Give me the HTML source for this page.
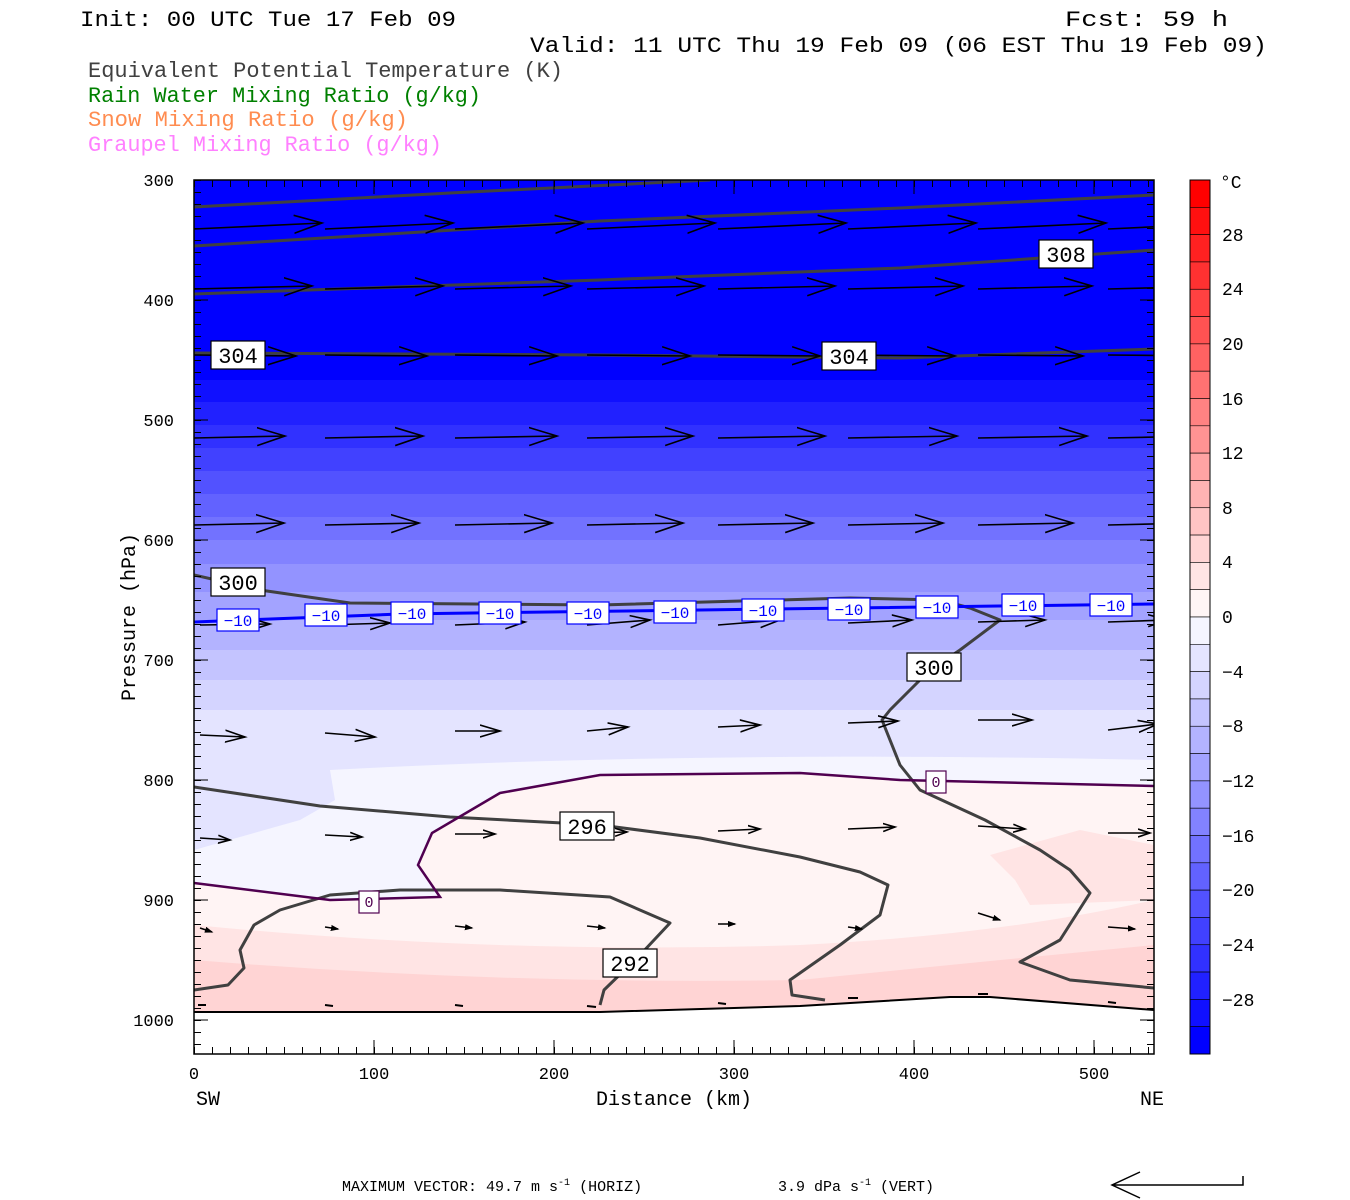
<!DOCTYPE html>
<html><head><meta charset="utf-8"><style>
html,body{margin:0;padding:0;background:#fff;}
svg{display:block;}
text{font-family:"Liberation Mono",monospace;}
</style></head><body>
<svg width="1350" height="1200" xmlns="http://www.w3.org/2000/svg">
<defs>
<clipPath id="pc"><rect x="194" y="180" width="960" height="874"/></clipPath>
<marker id="ma" markerWidth="32" markerHeight="22" refX="28" refY="10" orient="auto" markerUnits="userSpaceOnUse"><path d="M0,1 L28,10 L0,19" fill="none" stroke="#000" stroke-width="1.6"/></marker>
<marker id="mb" markerWidth="24" markerHeight="16" refX="20" refY="7" orient="auto" markerUnits="userSpaceOnUse"><path d="M0,1 L20,7 L0,13" fill="none" stroke="#000" stroke-width="1.6"/></marker>
<marker id="mc" markerWidth="16" markerHeight="12" refX="12" refY="5" orient="auto" markerUnits="userSpaceOnUse"><path d="M0,1 L12,5 L0,9" fill="none" stroke="#000" stroke-width="1.6"/></marker>
<marker id="md" markerWidth="10" markerHeight="8" refX="7" refY="4" orient="auto" markerUnits="userSpaceOnUse"><path d="M0,1.5 L7,4 L0,6.5 Z" fill="#000" stroke="#000" stroke-width="1"/></marker>
<pattern id="ph" patternUnits="userSpaceOnUse" x="194" y="180" width="20" height="12"><rect x="0" y="0" width="20" height="1" fill="#000"/></pattern>
<pattern id="pv" patternUnits="userSpaceOnUse" x="194" y="0" width="18" height="20"><rect x="0" y="0" width="1" height="20" fill="#000"/></pattern>
</defs>
<g clip-path="url(#pc)">
<rect x="194" y="180" width="960" height="874" fill="#f5f5ff"/>
<rect x="194" y="180" width="960" height="201" fill="#0000ff"/>
<rect x="194" y="380" width="960" height="23" fill="rgb(16,16,255)"/>
<rect x="194" y="402" width="960" height="24" fill="rgb(33,33,255)"/>
<rect x="194" y="425" width="960" height="24" fill="rgb(49,49,255)"/>
<rect x="194" y="448" width="960" height="24" fill="rgb(65,65,255)"/>
<rect x="194" y="471" width="960" height="24" fill="rgb(82,82,255)"/>
<rect x="194" y="494" width="960" height="24" fill="rgb(98,98,255)"/>
<rect x="194" y="517" width="960" height="24" fill="rgb(114,114,255)"/>
<rect x="194" y="540" width="960" height="25" fill="rgb(130,130,255)"/>
<rect x="194" y="564" width="960" height="29" fill="rgb(147,147,255)"/>
<rect x="194" y="592" width="960" height="29" fill="rgb(163,163,255)"/>
<rect x="194" y="620" width="960" height="31" fill="rgb(179,179,255)"/>
<rect x="194" y="650" width="960" height="31" fill="rgb(196,196,255)"/>
<rect x="194" y="680" width="960" height="31" fill="rgb(212,212,255)"/>
<rect x="194" y="710" width="960" height="40" fill="rgb(228,228,255)"/>
<path d="M194,750 L1154,750 L1154,760 Q700,750 330,770 L194,780 Z" fill="rgb(228,228,255)"/>
<path d="M194,760 L330,770 L335,800 L300,820 L194,850 Z" fill="#e4e4ff"/>
<path d="M194,883 L330,900 L440,897 L418,865 L432,833 L500,793 L600,775 L800,773 L900,780 L1154,786 L1154,1054 L194,1054 Z" fill="#fff4f4"/>
<path d="M194,925 Q500,955 800,945 Q1000,935 1154,900 L1154,1054 L194,1054 Z" fill="#ffe4e4"/>
<path d="M990,855 L1080,830 L1154,845 L1154,900 L1030,905 L1015,880 Z" fill="#ffe4e4"/>
<path d="M194,960 Q500,985 800,980 Q1000,960 1154,945 L1154,1054 L194,1054 Z" fill="#ffd4d4"/>
<path d="M194,1012 L600,1012 L800,1006 L950,997 L990,997 L1154,1010 L1154,1054 L194,1054 Z" fill="#fff"/>
<path d="M194,1012 L600,1012 L800,1006 L950,997 L990,997 L1154,1010" fill="none" stroke="#000" stroke-width="2"/>
<g fill="none" stroke="#404040" stroke-width="3" stroke-linejoin="round">
<path d="M194,207 L450,193 L710,180"/>
<path d="M194,246 L600,221 L900,208 L1154,195"/>
<path d="M194,294 L600,280 L900,268 L1154,250"/>
<path d="M194,353 L600,355 L900,358 L1154,349"/>
<path d="M194,575 L260,590 L350,603 L600,605 L850,598 L940,600 L970,608 L1000,620 L960,650 L930,670 L890,710 L882,720 L900,765 L920,790 L985,820 L1040,850 L1070,870 L1090,893 L1060,940 L1020,962 L1070,980 L1154,988"/>
<path d="M194,787 L320,806 L450,817 L600,825 L700,838 L800,857 L860,872 L888,885 L880,915 L840,945 L790,980 L792,995 L825,1000"/>
<path d="M194,990 L228,985 L244,968 L240,950 L254,925 L280,910 L330,895 L400,890 L500,890 L610,897 L670,923 L640,955 L604,990 L600,1005"/>
</g>
<path d="M194,883 L330,900 L440,897 L418,865 L432,833 L500,793 L600,775 L800,773 L900,780 L1154,786" fill="none" stroke="#500050" stroke-width="2.5"/>
<path d="M194,622 L400,614 L700,610 L1154,604" fill="none" stroke="#0000ff" stroke-width="3"/>
<g stroke="#000" stroke-width="1.6" fill="none">
<g marker-end="url(#ma)">
<line x1="194" y1="229" x2="322" y2="223"/><line x1="325" y1="229" x2="453" y2="223"/><line x1="455" y1="229" x2="583" y2="223"/><line x1="587" y1="229" x2="715" y2="223"/><line x1="718" y1="229" x2="846" y2="223"/><line x1="848" y1="229" x2="976" y2="223"/><line x1="978" y1="229" x2="1106" y2="223"/><line x1="1108" y1="229" x2="1236" y2="223"/>
<line x1="194" y1="289" x2="312" y2="286"/><line x1="325" y1="289" x2="443" y2="286"/><line x1="455" y1="289" x2="571" y2="286"/><line x1="587" y1="289" x2="704" y2="286"/><line x1="718" y1="289" x2="835" y2="286"/><line x1="848" y1="289" x2="963" y2="286"/><line x1="978" y1="289" x2="1092" y2="286"/><line x1="1108" y1="289" x2="1222" y2="286"/>
<line x1="194" y1="355" x2="296" y2="356"/><line x1="325" y1="355" x2="427" y2="356"/><line x1="455" y1="355" x2="557" y2="356"/><line x1="587" y1="355" x2="690" y2="356"/><line x1="718" y1="355" x2="820" y2="356"/><line x1="848" y1="355" x2="955" y2="356"/><line x1="978" y1="355" x2="1083" y2="356"/><line x1="1108" y1="355" x2="1208" y2="356"/>
<line x1="194" y1="438" x2="285" y2="436"/><line x1="325" y1="438" x2="423" y2="436"/><line x1="455" y1="438" x2="557" y2="436"/><line x1="587" y1="438" x2="693" y2="436"/><line x1="718" y1="438" x2="825" y2="436"/><line x1="848" y1="438" x2="957" y2="436"/><line x1="978" y1="438" x2="1087" y2="436"/><line x1="1108" y1="438" x2="1208" y2="436"/>
<line x1="194" y1="525" x2="284" y2="523"/><line x1="325" y1="525" x2="419" y2="523"/><line x1="455" y1="525" x2="552" y2="523"/><line x1="587" y1="525" x2="683" y2="523"/><line x1="718" y1="525" x2="813" y2="523"/><line x1="848" y1="525" x2="943" y2="523"/><line x1="978" y1="525" x2="1073" y2="523"/><line x1="1108" y1="525" x2="1198" y2="523"/>
</g>
<g marker-end="url(#mb)">
<line x1="200" y1="625" x2="270" y2="624"/><line x1="325" y1="625" x2="390" y2="623"/><line x1="455" y1="625" x2="525" y2="622"/><line x1="587" y1="625" x2="650" y2="620"/><line x1="718" y1="625" x2="780" y2="620"/><line x1="848" y1="623" x2="912" y2="620"/><line x1="978" y1="622" x2="1045" y2="620"/><line x1="1108" y1="622" x2="1168" y2="620"/>
<line x1="200" y1="735" x2="245" y2="737"/><line x1="325" y1="733" x2="375" y2="737"/><line x1="455" y1="731" x2="500" y2="731"/><line x1="587" y1="731" x2="628" y2="727"/><line x1="718" y1="727" x2="760" y2="725"/><line x1="848" y1="723" x2="898" y2="721"/><line x1="978" y1="720" x2="1032" y2="720"/><line x1="1108" y1="730" x2="1158" y2="724"/>
</g>
<g marker-end="url(#mc)">
<line x1="200" y1="838" x2="230" y2="840"/><line x1="325" y1="835" x2="362" y2="837"/><line x1="455" y1="834" x2="495" y2="834"/><line x1="587" y1="833" x2="627" y2="832"/><line x1="718" y1="831" x2="760" y2="829"/><line x1="848" y1="829" x2="895" y2="827"/><line x1="978" y1="826" x2="1025" y2="829"/><line x1="1108" y1="833" x2="1150" y2="833"/>
</g>
<g marker-end="url(#md)">
<line x1="200" y1="928" x2="212" y2="932"/><line x1="325" y1="927" x2="338" y2="929"/><line x1="455" y1="926" x2="472" y2="928"/><line x1="587" y1="926" x2="605" y2="928"/><line x1="718" y1="924" x2="735" y2="924"/><line x1="848" y1="927" x2="862" y2="929"/><line x1="978" y1="913" x2="1000" y2="920"/><line x1="1108" y1="927" x2="1135" y2="929"/>
</g>
<g stroke-width="2">
<line x1="198" y1="1005" x2="206" y2="1005"/><line x1="325" y1="1005" x2="333" y2="1006"/><line x1="455" y1="1005" x2="463" y2="1006"/><line x1="587" y1="1006" x2="596" y2="1007"/><line x1="718" y1="1003" x2="726" y2="1004"/><line x1="848" y1="998" x2="858" y2="998"/><line x1="978" y1="994" x2="988" y2="994"/><line x1="1108" y1="1002" x2="1116" y2="1003"/>
</g>
</g>
<g font-size="22" text-anchor="middle" fill="#000">
<rect x="1039" y="240" width="54" height="28" fill="#fff" stroke="#000" stroke-width="1.2"/><text x="1066" y="262">308</text>
<rect x="211" y="341" width="54" height="28" fill="#fff" stroke="#000" stroke-width="1.2"/><text x="238" y="363">304</text>
<rect x="822" y="342" width="54" height="28" fill="#fff" stroke="#000" stroke-width="1.2"/><text x="849" y="364">304</text>
<rect x="211" y="568" width="54" height="28" fill="#fff" stroke="#000" stroke-width="1.2"/><text x="238" y="590">300</text>
<rect x="907" y="653" width="54" height="28" fill="#fff" stroke="#000" stroke-width="1.2"/><text x="934" y="675">300</text>
<rect x="560" y="812" width="54" height="28" fill="#fff" stroke="#000" stroke-width="1.2"/><text x="587" y="834">296</text>
<rect x="603" y="949" width="54" height="28" fill="#fff" stroke="#000" stroke-width="1.2"/><text x="630" y="971">292</text>
</g>
<g font-size="16" text-anchor="middle" fill="#0000ff">
<rect x="217" y="609" width="42" height="22" fill="#fff" stroke="#00f" stroke-width="1.2"/><text x="238" y="626">−10</text>
<rect x="305" y="604" width="42" height="22" fill="#fff" stroke="#00f" stroke-width="1.2"/><text x="326" y="621">−10</text>
<rect x="391" y="602" width="42" height="22" fill="#fff" stroke="#00f" stroke-width="1.2"/><text x="412" y="619">−10</text>
<rect x="479" y="602" width="42" height="22" fill="#fff" stroke="#00f" stroke-width="1.2"/><text x="500" y="619">−10</text>
<rect x="567" y="602" width="42" height="22" fill="#fff" stroke="#00f" stroke-width="1.2"/><text x="588" y="619">−10</text>
<rect x="654" y="601" width="42" height="22" fill="#fff" stroke="#00f" stroke-width="1.2"/><text x="675" y="618">−10</text>
<rect x="742" y="599" width="42" height="22" fill="#fff" stroke="#00f" stroke-width="1.2"/><text x="763" y="616">−10</text>
<rect x="828" y="598" width="42" height="22" fill="#fff" stroke="#00f" stroke-width="1.2"/><text x="849" y="615">−10</text>
<rect x="916" y="596" width="42" height="22" fill="#fff" stroke="#00f" stroke-width="1.2"/><text x="937" y="613">−10</text>
<rect x="1002" y="594" width="42" height="22" fill="#fff" stroke="#00f" stroke-width="1.2"/><text x="1023" y="611">−10</text>
<rect x="1090" y="594" width="42" height="22" fill="#fff" stroke="#00f" stroke-width="1.2"/><text x="1111" y="611">−10</text>
</g>
<g font-size="15" text-anchor="middle" fill="#500050">
<rect x="359" y="891" width="20" height="22" fill="#fff" stroke="#500050" stroke-width="1.2"/><text x="369" y="907">0</text>
<rect x="926" y="771" width="20" height="22" fill="#fff" stroke="#500050" stroke-width="1.2"/><text x="936" y="787">0</text>
</g>
</g>
<rect x="194" y="180" width="960" height="874" fill="none" stroke="#000" stroke-width="1.5"/>
<rect x="194" y="180" width="7" height="868" fill="url(#ph)"/>
<rect x="1147" y="180" width="7" height="868" fill="url(#ph)"/>
<rect x="194" y="1047" width="960" height="7" fill="url(#pv)"/>
<rect x="194" y="180" width="960" height="7" fill="url(#pv)"/>
<path d="M194,300h14M194,420h14M194,540h14M194,660h14M194,780h14M194,900h14M194,1020h14M1154,300h-14M1154,420h-14M1154,540h-14M1154,660h-14M1154,780h-14M1154,900h-14M1154,1020h-14M374,1054v-14M554,1054v-14M734,1054v-14M914,1054v-14M1094,1054v-14M374,180v14M554,180v14M734,180v14M914,180v14M1094,180v14" stroke="#000" stroke-width="1"/>
<g font-size="17" fill="#000" text-anchor="end">
<text x="174" y="186">300</text><text x="174" y="306">400</text><text x="174" y="426">500</text><text x="174" y="546">600</text><text x="174" y="666">700</text><text x="174" y="786">800</text><text x="174" y="906">900</text><text x="174" y="1026">1000</text>
</g>
<g font-size="17" fill="#000" text-anchor="middle">
<text x="194" y="1079">0</text><text x="374" y="1079">100</text><text x="554" y="1079">200</text><text x="734" y="1079">300</text><text x="914" y="1079">400</text><text x="1094" y="1079">500</text>
</g>
<g stroke="#000" stroke-width="0.6">
<rect x="1190" y="180" width="20" height="27.31" fill="rgb(255,0,0)"/>
<rect x="1190" y="207.31" width="20" height="27.31" fill="rgb(255,16,16)"/>
<rect x="1190" y="234.63" width="20" height="27.31" fill="rgb(255,33,33)"/>
<rect x="1190" y="261.94" width="20" height="27.31" fill="rgb(255,49,49)"/>
<rect x="1190" y="289.25" width="20" height="27.31" fill="rgb(255,65,65)"/>
<rect x="1190" y="316.56" width="20" height="27.31" fill="rgb(255,82,82)"/>
<rect x="1190" y="343.88" width="20" height="27.31" fill="rgb(255,98,98)"/>
<rect x="1190" y="371.19" width="20" height="27.31" fill="rgb(255,114,114)"/>
<rect x="1190" y="398.5" width="20" height="27.31" fill="rgb(255,130,130)"/>
<rect x="1190" y="425.81" width="20" height="27.31" fill="rgb(255,147,147)"/>
<rect x="1190" y="453.13" width="20" height="27.31" fill="rgb(255,163,163)"/>
<rect x="1190" y="480.44" width="20" height="27.31" fill="rgb(255,179,179)"/>
<rect x="1190" y="507.75" width="20" height="27.31" fill="rgb(255,196,196)"/>
<rect x="1190" y="535.06" width="20" height="27.31" fill="rgb(255,212,212)"/>
<rect x="1190" y="562.38" width="20" height="27.31" fill="rgb(255,228,228)"/>
<rect x="1190" y="589.69" width="20" height="27.31" fill="rgb(255,245,245)"/>
<rect x="1190" y="617" width="20" height="27.31" fill="rgb(245,245,255)"/>
<rect x="1190" y="644.31" width="20" height="27.31" fill="rgb(228,228,255)"/>
<rect x="1190" y="671.63" width="20" height="27.31" fill="rgb(212,212,255)"/>
<rect x="1190" y="698.94" width="20" height="27.31" fill="rgb(196,196,255)"/>
<rect x="1190" y="726.25" width="20" height="27.31" fill="rgb(179,179,255)"/>
<rect x="1190" y="753.56" width="20" height="27.31" fill="rgb(163,163,255)"/>
<rect x="1190" y="780.88" width="20" height="27.31" fill="rgb(147,147,255)"/>
<rect x="1190" y="808.19" width="20" height="27.31" fill="rgb(130,130,255)"/>
<rect x="1190" y="835.5" width="20" height="27.31" fill="rgb(114,114,255)"/>
<rect x="1190" y="862.81" width="20" height="27.31" fill="rgb(98,98,255)"/>
<rect x="1190" y="890.13" width="20" height="27.31" fill="rgb(82,82,255)"/>
<rect x="1190" y="917.44" width="20" height="27.31" fill="rgb(65,65,255)"/>
<rect x="1190" y="944.75" width="20" height="27.31" fill="rgb(49,49,255)"/>
<rect x="1190" y="972.06" width="20" height="27.31" fill="rgb(33,33,255)"/>
<rect x="1190" y="999.38" width="20" height="27.31" fill="rgb(16,16,255)"/>
<rect x="1190" y="1026.69" width="20" height="27.31" fill="rgb(0,0,255)"/>
</g>
<rect x="1190" y="180" width="20" height="874" fill="none" stroke="#000" stroke-width="1"/>
<g font-size="18" fill="#000">
<text x="1220" y="188">°C</text>
<text x="1222" y="241">28</text><text x="1222" y="295">24</text><text x="1222" y="350">20</text><text x="1222" y="405">16</text><text x="1222" y="459">12</text><text x="1222" y="514">8</text><text x="1222" y="568">4</text><text x="1222" y="623">0</text>
<text x="1222" y="678">−4</text><text x="1222" y="732">−8</text><text x="1222" y="787">−12</text><text x="1222" y="842">−16</text><text x="1222" y="896">−20</text><text x="1222" y="951">−24</text><text x="1222" y="1006">−28</text>
</g>
<g font-size="22" fill="#000">
<text x="80" y="26" textLength="376" lengthAdjust="spacingAndGlyphs">Init: 00 UTC Tue 17 Feb 09</text>
<text x="1065" y="26" textLength="163" lengthAdjust="spacingAndGlyphs">Fcst:   59 h</text>
<text x="530" y="52" textLength="737" lengthAdjust="spacingAndGlyphs">Valid: 11 UTC Thu 19 Feb 09 (06 EST Thu 19 Feb 09)</text>
<text x="88" y="77" fill="#404040" textLength="475" lengthAdjust="spacingAndGlyphs">Equivalent Potential Temperature (K)</text>
<text x="88" y="102" fill="#008000" textLength="393" lengthAdjust="spacingAndGlyphs">Rain Water Mixing Ratio (g/kg)</text>
<text x="88" y="126" fill="#ff8c50" textLength="320" lengthAdjust="spacingAndGlyphs">Snow Mixing Ratio (g/kg)</text>
<text x="88" y="151" fill="#ff80ff" textLength="354" lengthAdjust="spacingAndGlyphs">Graupel Mixing Ratio (g/kg)</text>
</g>
<g font-size="20" fill="#000">
<text x="674" y="1105" text-anchor="middle">Distance (km)</text>
<text x="196" y="1105">SW</text>
<text x="1140" y="1105">NE</text>
<text transform="translate(135,617) rotate(-90)" text-anchor="middle">Pressure (hPa)</text>
</g>
<g font-size="15" fill="#000">
<text x="342" y="1191" font-family="Liberation Serif">MAXIMUM VECTOR:  49.7 m s<tspan font-size="10" dy="-6">-1</tspan><tspan dy="6"> (HORIZ)</tspan></text>
<text x="778" y="1191" font-family="Liberation Serif">3.9 dPa s<tspan font-size="10" dy="-6">-1</tspan><tspan dy="6"> (VERT)</tspan></text>
</g>
<path d="M1243,1176 L1243,1185 L1112,1185 M1140,1172 L1112,1185 L1140,1198" fill="none" stroke="#000" stroke-width="1.5"/>
</svg>
</body></html>
